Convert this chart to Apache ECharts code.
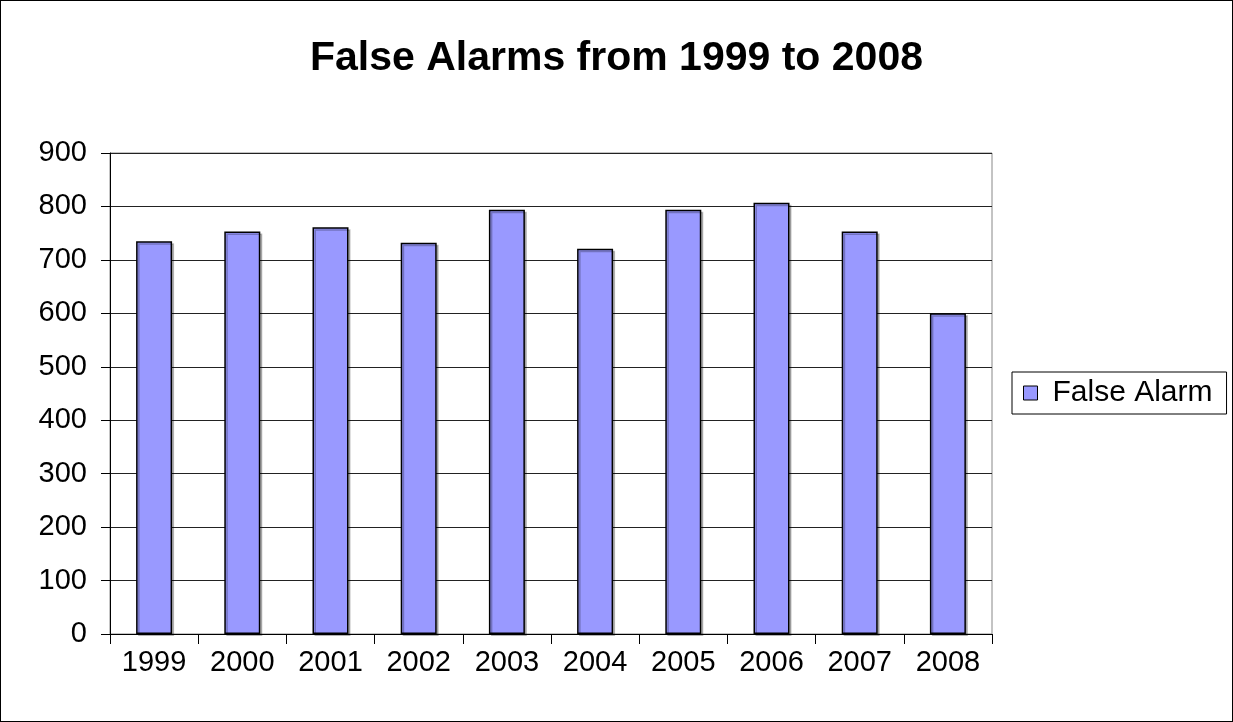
<!DOCTYPE html>
<html>
<head>
<meta charset="utf-8">
<script src="https://cdn.jsdelivr.net/npm/echarts@6/dist/echarts.min.js"></script>
<style>
html,body{margin:0;padding:0;background:#fff;}
#wrap{position:absolute;left:0;top:0;width:1231px;height:720px;border:1px solid #000;}
#chart{width:1231px;height:720px;}
</style>
</head>
<body>
<div id="wrap"><div id="chart"></div></div>
<script>
const categories = ['1999','2000','2001','2002','2003','2004','2005','2006','2007','2008'];
const falseAlarms = [735, 753, 761, 732, 794, 721, 794, 807, 753, 600];
const seriesName = 'False Alarm';
const titleText = 'False Alarms from 1999 to 2008';

const chart = echarts.init(document.getElementById('chart'), null, {renderer:'canvas'});
const font = 'Liberation Sans, Arial, sans-serif';
chart.setOption({
  animation: false,
  title: {
    text: titleText,
    left: 'center',
    top: 32,
    textStyle: {fontFamily: font, fontSize: 41, fontWeight: 'bold', color: '#000'}
  },
  legend: {
    data: [seriesName],
    left: 1011,
    top: 371,
    orient: 'vertical',
    itemWidth: 14,
    itemHeight: 14,
    itemGap: 0,
    padding: [6, 14, 6, 11],
    borderColor: '#000',
    borderWidth: 1,
    textStyle: {fontFamily: font, fontSize: 30, color: '#000', padding: [0,0,0,10]},
    icon: 'rect',
    itemStyle: {borderColor: '#000', borderWidth: 1}
  },
  grid: {left: 109, right: 240, top: 152, bottom: 87, containLabel: false,
    show: true, borderColor: '#888', borderWidth: 1},
  xAxis: {
    type: 'category',
    data: categories,
    boundaryGap: true,
    axisLine: {lineStyle: {color: '#000', width: 1}},
    axisTick: {show: true, length: 10, inside: false, alignWithLabel: false, lineStyle: {color: '#000'}},
    axisLabel: {fontFamily: font, fontSize: 29, color: '#000', margin: 14}
  },
  yAxis: {
    type: 'value',
    min: 0, max: 900, interval: 100,
    axisLine: {show: true, lineStyle: {color: '#000', width: 1}},
    axisTick: {show: true, length: 9, lineStyle: {color: '#000'}},
    axisLabel: {fontFamily: font, fontSize: 29, color: '#000', margin: 23},
    splitLine: {show: true, lineStyle: {color: '#222', width: 1}}
  },
  series: [{
    name: seriesName,
    type: 'bar',
    data: falseAlarms,
    barWidth: 36,
    itemStyle: {color: '#9999FF', borderColor: '#000', borderWidth: 1.5,
      shadowColor: 'rgba(0,0,0,0.25)', shadowOffsetX: 2, shadowOffsetY: 2, shadowBlur: 0}
  }]
});
</script>
</body>
</html>
